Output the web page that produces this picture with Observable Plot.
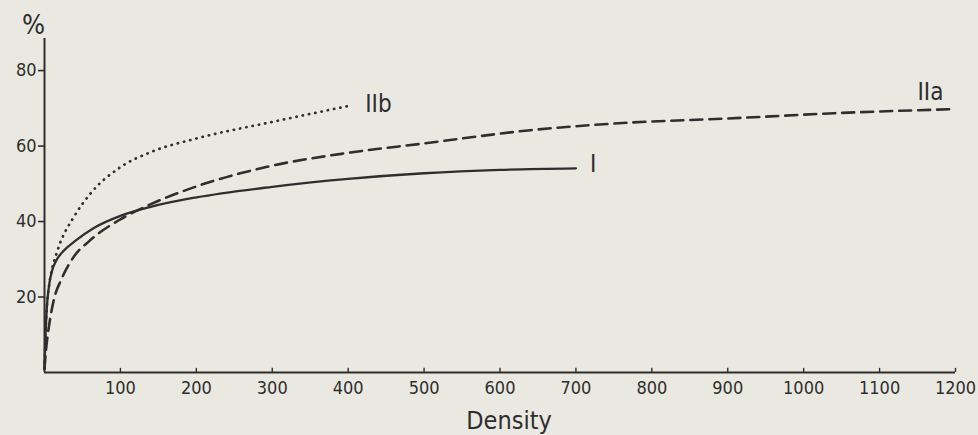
<!DOCTYPE html>
<html>
<head>
<meta charset="utf-8">
<script src="https://cdn.jsdelivr.net/npm/d3@7"></script>
<script src="https://cdn.jsdelivr.net/npm/@observablehq/plot@0.6"></script>
<style>
  html, body { margin: 0; padding: 0; background: #eae9e1; }
  #chart svg { display: block; }
</style>
</head>
<body>
<div id="chart"></div>
<script>
// Curve I (solid)
const densityI = [0, 1, 3, 6, 10, 15, 25, 40, 65, 100, 140, 200, 300, 400, 500, 600, 700];
const percentI = [1, 8, 17, 23, 27, 29.5, 32.2, 34.8, 38.3, 41.5, 43.9, 46.4, 49.2, 51.3, 52.8, 53.7, 54.1];
// Curve IIa (dashed)
const densityIIa = [0, 2, 5, 12, 23, 38, 60, 100, 140, 200, 300, 400, 500, 640, 770, 900, 1040, 1200];
const percentIIa = [1, 6, 11, 19, 25, 30.5, 35, 40.6, 44.6, 49.3, 54.8, 58.2, 60.7, 64.2, 66.2, 67.3, 68.7, 69.8];
// Curve IIb (dotted)
const densityIIb = [0, 1, 3, 6, 10, 15, 20, 38, 60, 100, 140, 200, 300, 400];
const percentIIb = [1, 8, 17, 23, 27.5, 31, 34, 41, 47.3, 54.4, 58.4, 62, 66.4, 70.6];

const xTicks = [100, 200, 300, 400, 500, 600, 700, 800, 900, 1000, 1100, 1200];
const yTicks = [20, 40, 60, 80];
const xDomain = [0, 1200];
const yDomain = [0, 88.5];

const ink = "#2e2e2e";
const font = "'DejaVu Sans Condensed', 'DejaVu Sans', sans-serif";

const chart = Plot.plot({
  width: 978,
  height: 435,
  marginLeft: 44,
  marginRight: 23,
  marginTop: 38,
  marginBottom: 63,
  style: { background: "transparent", fontFamily: font, fontSize: "17px", color: ink },
  x: { domain: xDomain },
  y: { domain: yDomain },
  marks: [
    Plot.axisY({ ticks: yTicks, tickSize: 6, tickPadding: 2, tickFormat: d => String(d), label: null, stroke: ink, strokeWidth: 1.6, fill: ink, fontSize: 18 }),
    Plot.axisX({ ticks: xTicks, tickSize: 0, tickPadding: 9, tickFormat: d => String(d), label: null, fill: ink, fontSize: 18 }),
    Plot.ruleX(xTicks, { y1: 0, y2: 1.1, stroke: ink, strokeWidth: 1.4 }),
    Plot.ruleX([0], { stroke: ink, strokeWidth: 2 }),
    Plot.ruleY([0], { stroke: ink, strokeWidth: 2 }),
    Plot.line(densityI, { x: densityI, y: percentI, curve: "monotone-x", stroke: ink, strokeWidth: 2.3 }),
    Plot.line(densityIIa, { x: densityIIa, y: percentIIa, curve: "monotone-x", stroke: ink, strokeWidth: 2.6, strokeDasharray: "12 7" }),
    Plot.line(densityIIb, { x: densityIIb, y: percentIIb, curve: "monotone-x", stroke: ink, strokeWidth: 2.7, strokeDasharray: "0.3 6.1", strokeLinecap: "round" }),
    Plot.text(["I"], { x: [densityI.at(-1)], y: [percentI.at(-1)], text: d => d, dx: 14, dy: -4, textAnchor: "start", fontSize: 24, fill: ink }),
    Plot.text(["IIb"], { x: [densityIIb.at(-1)], y: [percentIIb.at(-1)], text: d => d, dx: 17, dy: -2, textAnchor: "start", fontSize: 24, fill: ink }),
    Plot.text(["IIa"], { x: [densityIIa.at(-1)], y: [percentIIa.at(-1)], text: d => d, dx: -38, dy: -17, textAnchor: "start", fontSize: 24, fill: ink }),
    Plot.text(["%"], { frameAnchor: "top-left", text: d => d, dx: -11, dy: -5, lineAnchor: "bottom", textAnchor: "middle", fontSize: 27, fill: ink }),
    Plot.text(["Density"], { frameAnchor: "bottom", text: d => d, dx: 9, dy: 56, lineAnchor: "bottom", textAnchor: "middle", fontSize: 25, fill: ink })
  ]
});
document.getElementById("chart").append(chart);
</script>
</body>
</html>
